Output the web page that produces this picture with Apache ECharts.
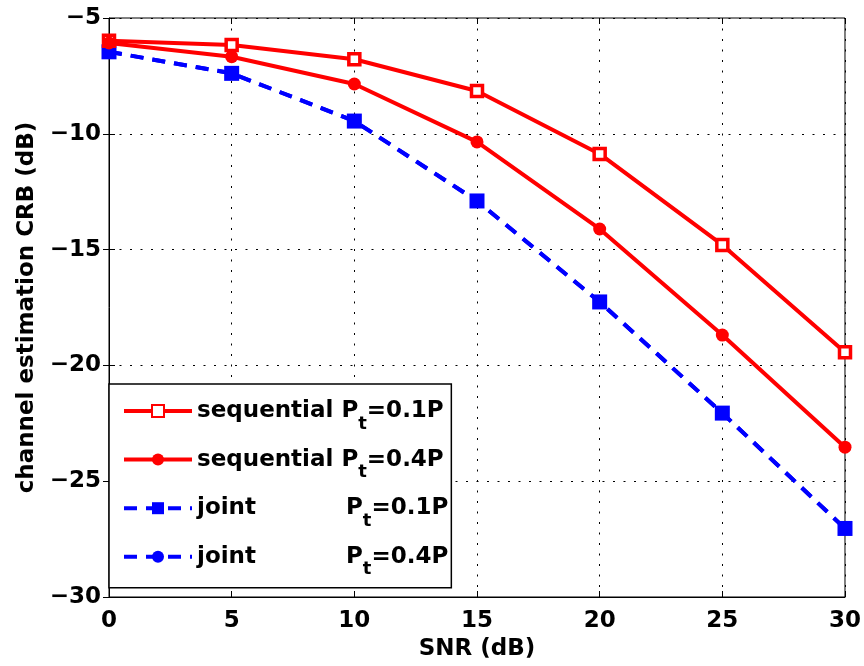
<!DOCTYPE html>
<html><head><meta charset="utf-8">
<script src="https://cdn.jsdelivr.net/npm/echarts@6/dist/echarts.min.js"></script>
<style>html,body{margin:0;padding:0;background:#fff}#c{width:864px;height:666px}</style>
</head><body><div id="c"></div>
<script>
const snr = [0, 5, 10, 15, 20, 25, 30];
const seq01 = [-5.98, -6.17, -6.78, -8.15, -10.87, -14.8, -19.43];
const seq04 = [-6.08, -6.67, -7.85, -10.35, -14.11, -18.69, -23.53];
const joint01 = [-6.46, -7.39, -9.45, -12.9, -17.26, -22.06, -27.04];
const joint04 = [-6.46, -7.39, -9.45, -12.9, -17.26, -22.06, -27.04];
const xTicks = [0, 5, 10, 15, 20, 25, 30];
const yTicks = [-30, -25, -20, -15, -10, -5];

const FONT = 'DejaVu Sans';
const FS = 23;
const chart = echarts.init(document.getElementById('c'));
const pair = a => snr.map((x, i) => [x, a[i]]);
const minusFmt = v => String(v).replace('-', '\u2212');

const legendNames = {
  'seq01': '{n|sequential }{p|P}{s|t}{p|=0.1P}',
  'seq04': '{n|sequential }{p|P}{s|t}{p|=0.4P}',
  'joint01': '{j|joint}{p|P}{s|t}{p|=0.1P}',
  'joint04': '{j|joint}{p|P}{s|t}{p|=0.4P}'
};
const base = {fontFamily: FONT, fontWeight: 'bold', fontSize: FS, color: '#000', lineHeight: 24};
const txt = {fontFamily: FONT, fontWeight: 'bold', fontSize: FS, color: '#000'};
const grid = {color: '#000', type: [2, 8.5], width: 1};

chart.setOption({
  animation: false,
  backgroundColor: '#fff',
  grid: {left: 109, right: 17, top: 18, bottom: 69, show: true, borderColor: '#000', borderWidth: 1},
  xAxis: [{
    type: 'value', min: 0, max: 30, interval: 5,
    name: 'SNR (dB)', nameLocation: 'middle', nameGap: 32,
    nameTextStyle: txt,
    axisLine: {lineStyle: {color: '#000', width: 1}},
    axisTick: {inside: true, length: 6, lineStyle: {color: '#000'}},
    axisLabel: {...txt, margin: 13},
    splitLine: {show: true, lineStyle: grid}
  }, {
    type: 'value', min: 0, max: 30, interval: 5, position: 'top',
    axisLine: {show: false}, axisLabel: {show: false}, splitLine: {show: false},
    axisTick: {inside: true, length: 6, lineStyle: {color: '#000'}}
  }],
  yAxis: [{
    type: 'value', min: -30, max: -5, interval: 5,
    name: 'channel estimation CRB (dB)', nameLocation: 'middle', nameGap: 63,
    nameTextStyle: txt,
    axisLine: {show: true, lineStyle: {color: '#000', width: 1}},
    axisTick: {show: true, inside: true, length: 6, lineStyle: {color: '#000'}},
    axisLabel: {...txt, margin: 8, formatter: minusFmt},
    splitLine: {show: true, lineStyle: grid}
  }, {
    type: 'value', min: -30, max: -5, interval: 5, position: 'right',
    axisLine: {show: false}, axisLabel: {show: false}, splitLine: {show: false},
    axisTick: {show: true, inside: true, length: 6, lineStyle: {color: '#000'}}
  }],
  legend: {
    orient: 'vertical', left: 109, top: 384,
    backgroundColor: '#fff', borderColor: '#000', borderWidth: 1.5,
    padding: [5, 3, 9, 13],
    itemWidth: 68, itemHeight: 15, itemGap: 4.6,
    lineStyle: {width: 4},
    data: ['seq01', 'seq04', 'joint01', 'joint04'],
    formatter: n => legendNames[n],
    textStyle: {
      ...base,
      rich: {
        n: {...base},
        j: {...base, width: 149},
        p: {...base},
        s: {...base, fontSize: 18, lineHeight: 20, padding: [26, 0, 0, 0]}
      }
    }
  },
  series: [
    {name: 'seq01', type: 'line', data: pair(seq01), symbol: 'rect', symbolSize: 11,
      lineStyle: {color: '#ff0000', width: 4},
      itemStyle: {color: '#fff', borderColor: '#ff0000', borderWidth: 3.5}, z: 3},
    {name: 'seq04', type: 'line', data: pair(seq04), symbol: 'circle', symbolSize: 13,
      lineStyle: {color: '#ff0000', width: 4},
      itemStyle: {color: '#ff0000'}, z: 3},
    {name: 'joint01', type: 'line', data: pair(joint01), symbol: 'rect', symbolSize: 15,
      lineStyle: {color: '#0000ff', width: 4, type: [13, 9]},
      itemStyle: {color: '#0000ff'}, z: 2},
    {name: 'joint04', type: 'line', data: pair(joint04), symbol: 'circle', symbolSize: 12,
      lineStyle: {color: '#0000ff', width: 4, type: [13, 9]},
      itemStyle: {color: '#0000ff'}, z: 2}
  ]
});
</script></body></html>
